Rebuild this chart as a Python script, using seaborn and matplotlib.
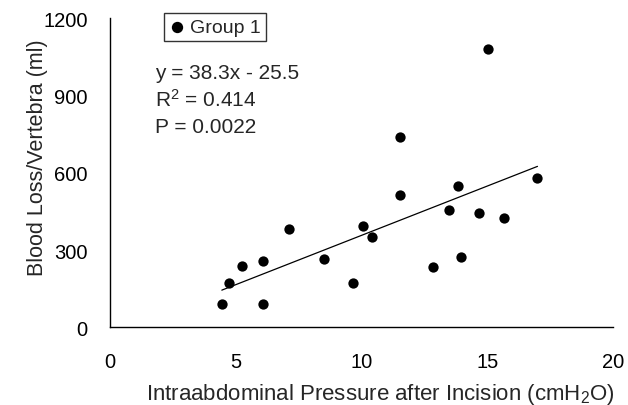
import numpy as np
import pandas as pd
import matplotlib
matplotlib.use("Agg")
import matplotlib.pyplot as plt
import seaborn as sns

# Data
pressure = [4.45, 4.75, 5.27, 6.08, 6.08, 7.12, 8.51, 9.65, 10.08, 10.43,
            11.55, 11.55, 12.84, 13.48, 13.84, 13.96, 14.67, 15.03, 15.66, 17.0]
blood_loss = [93, 173, 237, 260, 93, 383, 265, 171, 393, 351,
              739, 515, 234, 458, 549, 272, 443, 1082, 424, 580]
slope = 38.3
intercept = -25.5
r_squared = 0.414
p_value = "0.0022"
x_ticks = [0, 5, 10, 15, 20]
y_ticks = [0, 300, 600, 900, 1200]

df = pd.DataFrame({"pressure": pressure, "blood_loss": blood_loss})

sns.set_style("white")
plt.rcParams["font.family"] = ["Liberation Sans", "DejaVu Sans"]
plt.rcParams["mathtext.fontset"] = "custom"
plt.rcParams["mathtext.rm"] = "Liberation Sans"
plt.rcParams["mathtext.it"] = "Liberation Sans:italic"

fig = plt.figure(figsize=(6.28, 4.06), dpi=100)
ax = fig.add_axes([0.175, 0.191, 0.801, 0.761])

sns.scatterplot(data=df, x="pressure", y="blood_loss", ax=ax, color="black",
                s=55, edgecolor="black", linewidth=0, label="Group 1", zorder=3)

# regression line over the data range
xs = np.array([df["pressure"].min(), df["pressure"].max()])
ax.plot(xs, slope * xs + intercept, color="black", linewidth=0.9)

ax.set_xlim(0, 20)
ax.set_ylim(0, 1200)
ax.set_xticks(x_ticks)
ax.set_yticks(y_ticks)
ax.tick_params(axis="y", direction="in", length=5, width=1, pad=16, labelsize=14.5, colors="black")
ax.tick_params(axis="x", direction="in", length=2.5, width=0.8, pad=18, labelsize=14.5, colors="black")
for s in ["top", "right"]:
    ax.spines[s].set_visible(False)
for s in ["left", "bottom"]:
    ax.spines[s].set_color("black")
    ax.spines[s].set_linewidth(1)

ax.set_xlabel("Intraabdominal Pressure after Incision (cmH$_\\mathrm{2}$O)", fontsize=16)
ax.set_ylabel("Blood Loss/Vertebra (ml)", fontsize=15.5)
ax.xaxis.set_label_coords(0.537, -0.213)
ax.xaxis.label.set_va("center")
ax.yaxis.set_label_coords(-0.143, 0.554)
ax.yaxis.label.set_va("center")

leg = ax.legend(loc="upper left", bbox_to_anchor=(0.107, 1.017), frameon=True, fancybox=False,
                fontsize=14, handletextpad=0.2, borderpad=0.25, handlelength=0.9,
                borderaxespad=0, markerscale=1.1)
leg.get_frame().set_edgecolor("black")
leg.get_frame().set_linewidth(1)

lines = [f"y = {slope}x - {abs(intercept)}", f"R$^\\mathrm{{2}}$ = {r_squared}", f"P = {p_value}"]
for i, t in enumerate(lines):
    ax.text(0.089, 0.826 - i * 0.087, t, transform=ax.transAxes, fontsize=15,
            va="center", ha="left")

fig.savefig("out.png", dpi=100)
